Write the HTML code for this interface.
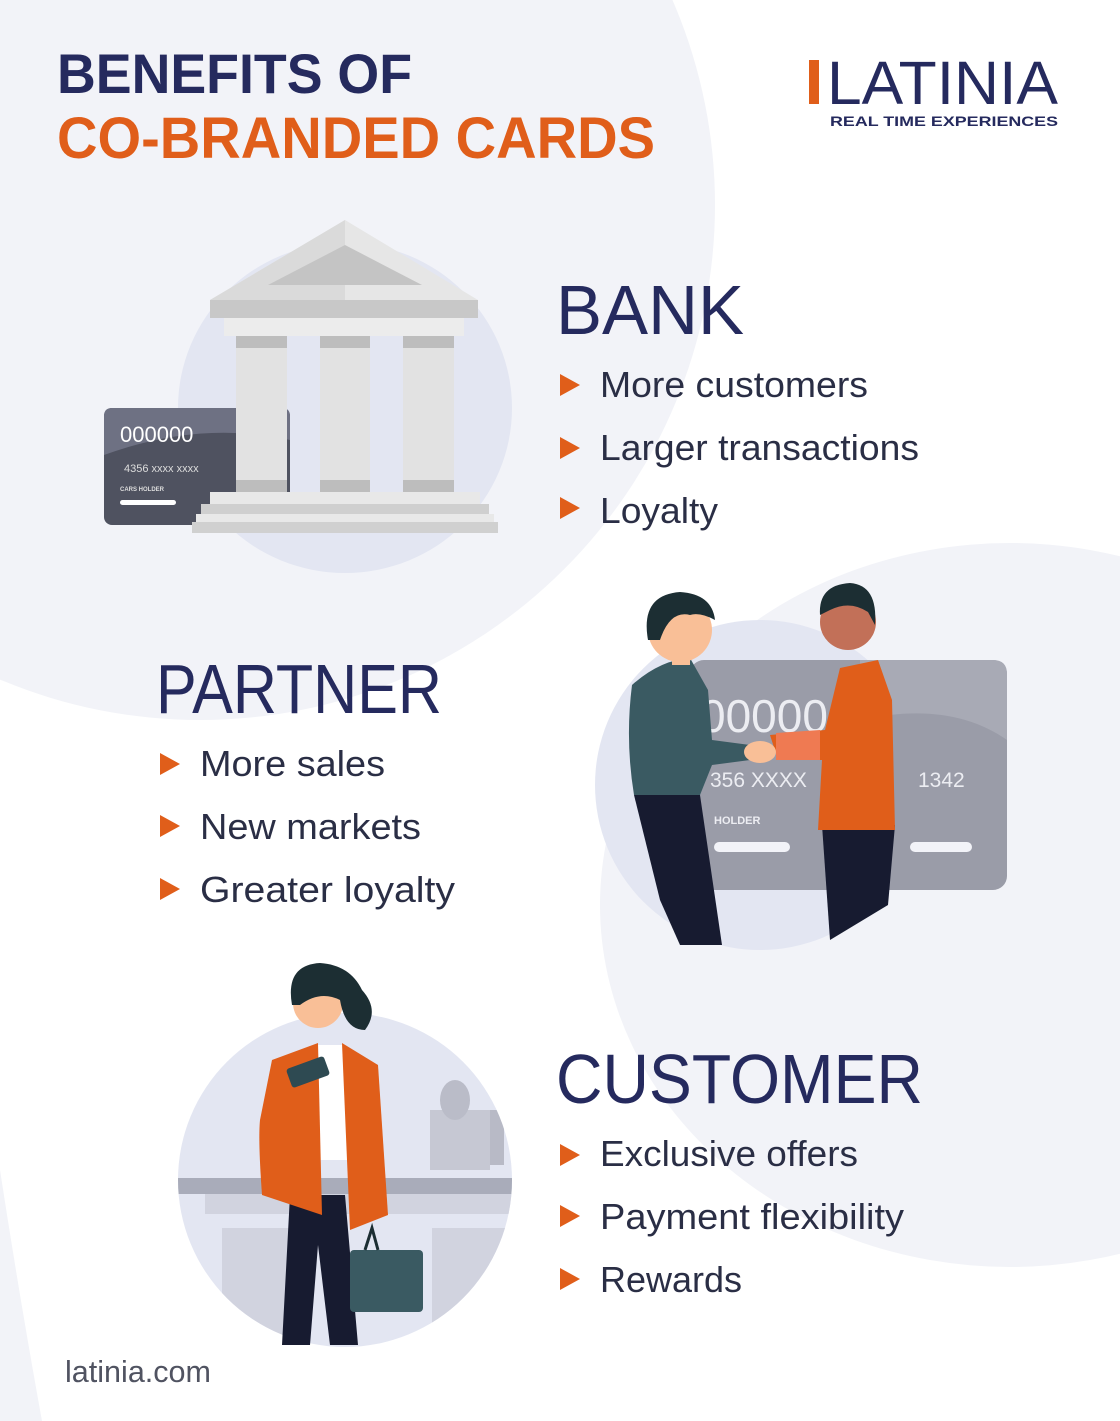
<!DOCTYPE html>
<html><head><meta charset="utf-8"><style>
html,body{margin:0;padding:0;background:#fff}
svg{display:block}
text{font-family:"Liberation Sans",sans-serif}
</style></head><body>
<svg width="1120" height="1421" viewBox="0 0 1120 1421" xmlns="http://www.w3.org/2000/svg">
<rect width="1120" height="1421" fill="#ffffff"/>
<!-- background blobs -->
<circle cx="200" cy="205" r="515" fill="#f2f3f8"/>
<ellipse cx="1010" cy="905" rx="410" ry="362" fill="#f2f3f8"/>
<path d="M0 1170 Q20 1300 42 1421 L0 1421 Z" fill="#f2f3f8"/>

<!-- Title -->
<text x="57" y="93" font-size="56" font-weight="bold" fill="#252a5e" textLength="355" lengthAdjust="spacingAndGlyphs">BENEFITS OF</text>
<text x="57" y="158" font-size="58" font-weight="bold" fill="#e05e1a" textLength="598" lengthAdjust="spacingAndGlyphs">CO-BRANDED CARDS</text>

<!-- Logo -->
<rect x="809" y="60" width="10" height="44" fill="#e05e1a"/>
<text x="827" y="104" font-size="61" fill="#252a5e" textLength="231" lengthAdjust="spacingAndGlyphs">LATINIA</text>
<text x="830" y="126" font-size="14" font-weight="bold" fill="#252a5e" textLength="228" lengthAdjust="spacingAndGlyphs">REAL TIME EXPERIENCES</text>

<!-- Bank illustration -->
<ellipse cx="345" cy="408" rx="167" ry="165" fill="#e3e6f2"/>
<rect x="104" y="408" width="186" height="117" rx="8" fill="#4f5260"/>
<path d="M104 416 Q104 408 112 408 L282 408 Q290 408 290 416 L290 440 Q200 420 104 455 Z" fill="#6e7183"/>
<text x="120" y="442" font-size="22" fill="#fff">000000</text>
<text x="124" y="472" font-size="11" fill="#ddd">4356   xxxx    xxxx</text>
<text x="120" y="491" font-size="6" font-weight="bold" fill="#ddd">CARS HOLDER</text>
<rect x="120" y="500" width="56" height="5" rx="2.5" fill="#fff"/>
<polygon points="345,220 210,300 478,300" fill="#e6e6e6"/>
<polygon points="345,220 345,300 210,300" fill="#dadada"/>
<polygon points="345,245 268,285 422,285" fill="#c4c4c4"/>
<rect x="210" y="300" width="268" height="18" fill="#c8c8c8"/>
<rect x="224" y="318" width="240" height="18" fill="#ececec"/>
<g fill="#e2e2e2">
<rect x="236" y="336" width="51" height="144"/><rect x="320" y="336" width="50" height="144"/><rect x="403" y="336" width="51" height="144"/>
</g>
<g fill="#bdbdbd">
<rect x="236" y="336" width="51" height="12"/><rect x="320" y="336" width="50" height="12"/><rect x="403" y="336" width="51" height="12"/>
<rect x="236" y="480" width="51" height="12"/><rect x="320" y="480" width="50" height="12"/><rect x="403" y="480" width="51" height="12"/>
</g>
<rect x="210" y="492" width="270" height="12" fill="#e8e8e8"/>
<rect x="201" y="504" width="288" height="10" fill="#cfcfcf"/>
<rect x="196" y="514" width="298" height="8" fill="#e8e8e8"/>
<rect x="192" y="522" width="306" height="11" fill="#d0d0d0"/>

<!-- BANK -->
<text x="556" y="334" font-size="70" fill="#252a5e" textLength="188" lengthAdjust="spacingAndGlyphs">BANK</text>
<g fill="#e05e1a">
<polygon points="560,374 580,385 560,396"/><polygon points="560,437 580,448 560,459"/><polygon points="560,497 580,508 560,519"/>
</g>
<g font-size="36" fill="#2a2e45">
<text x="600" y="397" textLength="268" lengthAdjust="spacingAndGlyphs">More customers</text>
<text x="600" y="460" textLength="319" lengthAdjust="spacingAndGlyphs">Larger transactions</text>
<text x="600" y="523" textLength="118" lengthAdjust="spacingAndGlyphs">Loyalty</text>
</g>

<!-- Handshake illustration -->
<circle cx="760" cy="785" r="165" fill="#e3e6f2"/>
<rect x="690" y="660" width="317" height="230" rx="14" fill="#9a9ca8"/>
<path d="M860 660 L993 660 Q1007 660 1007 674 L1007 740 Q950 700 860 720 Z" fill="#a8aab5"/>
<text x="700" y="732" font-size="46" fill="#ecedf2">000000</text>
<text x="710" y="787" font-size="21" fill="#ecedf2">356   XXXX</text>
<text x="918" y="787" font-size="21" fill="#ecedf2">1342</text>
<text x="714" y="824" font-size="11" font-weight="bold" fill="#ecedf2">HOLDER</text>
<rect x="714" y="842" width="76" height="10" rx="5" fill="#f2f3f8"/>
<rect x="910" y="842" width="62" height="10" rx="5" fill="#f2f3f8"/>
<!-- left man -->
<path d="M634 795 L700 795 L722 945 L680 945 L660 900 Z" fill="#171b30"/>
<path d="M632 685 Q660 660 690 658 L708 690 L712 740 L750 745 L750 760 L712 765 L700 795 L634 795 Q625 740 632 685 Z" fill="#3a5a62"/>
<circle cx="680" cy="630" r="32" fill="#f9bf97"/>
<path d="M648 640 Q640 595 680 592 Q712 594 715 620 Q700 612 690 615 Q670 610 660 640 Z" fill="#1c2e33"/>
<rect x="672" y="650" width="18" height="15" fill="#f9bf97"/>
<!-- right man -->
<path d="M822 825 L895 825 L888 905 L830 940 Z" fill="#171b30"/>
<path d="M770 735 L825 730 L840 668 L878 660 L892 700 L895 830 L818 830 L822 760 L778 760 Z" fill="#e05e1a"/>
<path d="M776 733 L820 730 L820 760 L776 760 Z" fill="#ef7a52"/>
<circle cx="848" cy="622" r="28" fill="#c27058"/>
<path d="M820 615 Q818 585 850 583 Q878 585 875 625 L868 612 Q850 600 830 610 Z" fill="#1c2e33"/>
<ellipse cx="760" cy="752" rx="16" ry="11" fill="#f9bf97"/>

<!-- PARTNER -->
<text x="156" y="713" font-size="70" fill="#252a5e" textLength="286" lengthAdjust="spacingAndGlyphs">PARTNER</text>
<g fill="#e05e1a">
<polygon points="160,753 180,764 160,775"/><polygon points="160,815 180,826 160,837"/><polygon points="160,878 180,889 160,900"/>
</g>
<g font-size="36" fill="#2a2e45">
<text x="200" y="776" textLength="185" lengthAdjust="spacingAndGlyphs">More sales</text>
<text x="200" y="839" textLength="221" lengthAdjust="spacingAndGlyphs">New markets</text>
<text x="200" y="902" textLength="255" lengthAdjust="spacingAndGlyphs">Greater loyalty</text>
</g>

<!-- Customer illustration -->
<clipPath id="cc"><circle cx="345" cy="1180" r="167"/></clipPath>
<circle cx="345" cy="1180" r="167" fill="#e3e6f2"/>
<g clip-path="url(#cc)">
<rect x="178" y="1178" width="340" height="16" fill="#a9acba"/>
<rect x="205" y="1194" width="310" height="20" fill="#d1d3df"/>
<rect x="222" y="1228" width="70" height="120" fill="#d1d3df"/>
<rect x="432" y="1228" width="80" height="120" fill="#d1d3df"/>
<rect x="430" y="1110" width="60" height="60" fill="#c6c8d3"/>
<ellipse cx="455" cy="1100" rx="15" ry="20" fill="#babcc8"/>
<rect x="490" y="1110" width="14" height="55" fill="#b8bac6"/>
</g>
<path d="M290 1195 L345 1195 L358 1345 L330 1345 L318 1245 L310 1345 L282 1345 Z" fill="#171b30"/>
<path d="M318 1045 L342 1045 L348 1160 L318 1160 Z" fill="#ffffff"/>
<path d="M272 1060 L318 1043 L322 1215 L262 1195 Q258 1140 260 1120 Z" fill="#e05e1a"/>
<path d="M342 1043 L378 1065 L388 1215 L350 1230 Z" fill="#e05e1a"/>
<rect x="288" y="1062" width="40" height="20" rx="3" transform="rotate(-20 308 1072)" fill="#2e4a52"/>
<circle cx="318" cy="1003" r="25" fill="#f9bf97"/>
<path d="M292 1005 Q285 965 320 963 Q350 965 362 990 Q380 1010 365 1030 Q345 1030 340 1000 Q320 990 300 1005 Z" fill="#1c2e33"/>
<rect x="350" y="1250" width="73" height="62" rx="4" fill="#3a5a62"/>
<path d="M365 1250 L372 1228 L378 1250" stroke="#1c2e33" stroke-width="3" fill="none"/>

<!-- CUSTOMER -->
<text x="556" y="1103" font-size="70" fill="#252a5e" textLength="367" lengthAdjust="spacingAndGlyphs">CUSTOMER</text>
<g fill="#e05e1a">
<polygon points="560,1144 580,1155 560,1166"/><polygon points="560,1205 580,1216 560,1227"/><polygon points="560,1268 580,1279 560,1290"/>
</g>
<g font-size="36" fill="#2a2e45">
<text x="600" y="1166" textLength="258" lengthAdjust="spacingAndGlyphs">Exclusive offers</text>
<text x="600" y="1229" textLength="304" lengthAdjust="spacingAndGlyphs">Payment flexibility</text>
<text x="600" y="1292" textLength="142" lengthAdjust="spacingAndGlyphs">Rewards</text>
</g>

<text x="65" y="1382" font-size="31" fill="#505361" textLength="146" lengthAdjust="spacingAndGlyphs">latinia.com</text>
</svg>
</body></html>
